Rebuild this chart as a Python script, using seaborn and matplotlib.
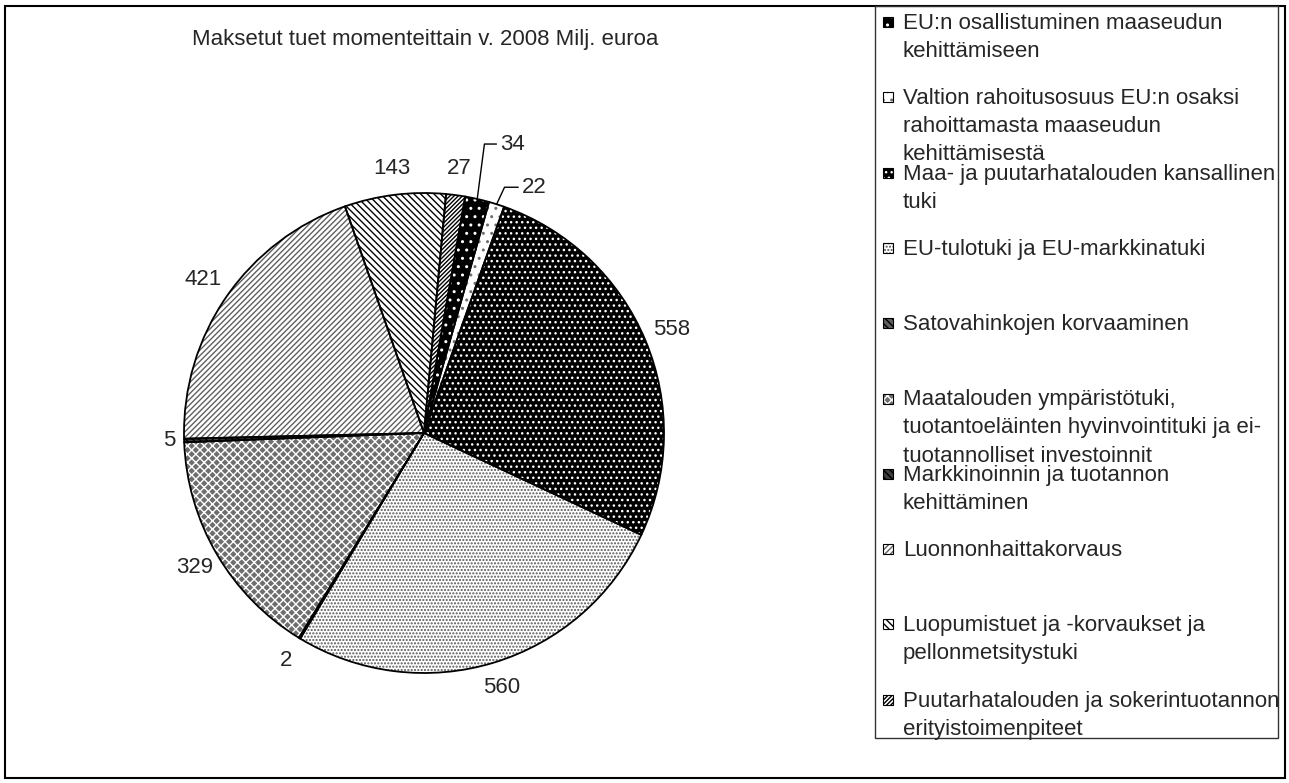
import numpy as np
import seaborn as sns
import matplotlib.pyplot as plt
from matplotlib.patches import Rectangle

sns.set_style("white")
plt.rcParams['font.family'] = ['Liberation Sans', 'DejaVu Sans']
plt.rcParams['hatch.linewidth'] = 1.0

title = "Maksetut tuet momenteittain v. 2008 Milj. euroa"
categories = [
    "EU:n osallistuminen maaseudun\nkehittämiseen",
    "Valtion rahoitusosuus EU:n osaksi\nrahoittamasta maaseudun\nkehittämisestä",
    "Maa- ja puutarhatalouden kansallinen\ntuki",
    "EU-tulotuki ja EU-markkinatuki",
    "Satovahinkojen korvaaminen",
    "Maatalouden ympäristötuki,\ntuotantoeläinten hyvinvointituki ja ei-\ntuotannolliset investoinnit",
    "Markkinoinnin ja tuotannon\nkehittäminen",
    "Luonnonhaittakorvaus",
    "Luopumistuet ja -korvaukset ja\npellonmetsitystuki",
    "Puutarhatalouden ja sokerintuotannon\nerityistoimenpiteet",
]
values = [34, 22, 558, 560, 2, 329, 5, 421, 143, 27]

# fill styles (face colour, hatch, hatch colour) per slice
faces = ['black', 'white', 'black', 'white', '#606060', '#6e6e6e', '#404040', 'white', 'white', 'white']
hatches = ['..', '..', '...', '.....', '\\\\\\\\\\', 'xxxx', '\\\\\\\\\\', '//////', '\\\\\\\\\\', '////////']
hcolors = ['white', '#707070', 'white', '#555555', 'black', 'white', 'black', '#606060', 'black', 'black']

W, H = 1289, 783
fs = 16


def fx(x):
    return x / W


def fy(y):
    return 1 - y / H


fig = plt.figure(figsize=(W / 100, H / 100), dpi=100)
R = 245
cx, cy = 424, 433
ax = fig.add_axes([fx(cx - 300), fy(cy + 300), 600 / W, 600 / H])
ax.set_xlim(-300 / R, 300 / R)
ax.set_ylim(-300 / R, 300 / R)
ax.axis('off')

start = 90 - 9.9
wedges, _ = ax.pie(values, startangle=start, counterclock=False, radius=1,
                   wedgeprops=dict(linewidth=0))
for w, fc, h, hc in zip(wedges, faces, hatches, hcolors):
    w.set_facecolor(fc)
    w.set_edgecolor(hc)
    w.set_hatch(h)
# outlines
ax.pie(values, startangle=start, counterclock=False, radius=1,
       wedgeprops=dict(facecolor='none', edgecolor='black', linewidth=1.3))

# value labels
label_r = [None, None, 1.12, 1.11, 1.11, 1.11, 1.06, 1.12, 1.11, 1.11]
for i, w in enumerate(wedges):
    ang = np.deg2rad((w.theta1 + w.theta2) / 2)
    if label_r[i] is None:
        continue
    ax.text(label_r[i] * np.cos(ang), label_r[i] * np.sin(ang), str(values[i]),
            ha='center', va='center', fontsize=fs)

# leader lines for the two thin slices
leader = {0: (1.204, 0.03, 0.05), 1: (1.024, 0.033, 0.057)}
for i, (ly, dx1, dx2) in leader.items():
    w = wedges[i]
    ang = np.deg2rad((w.theta1 + w.theta2) / 2)
    x0, y0 = np.cos(ang), np.sin(ang)
    xe = x0 + dx1
    ax.plot([x0, xe, xe + dx2], [y0, ly, ly], color='black', lw=1)
    ax.text(xe + dx2 + 0.015, ly, str(values[i]), ha='left', va='center', fontsize=fs)

fig.text(fx(425), fy(40), title, ha='center', va='center', fontsize=fs)

# outer frame and legend box
fig.patches.append(Rectangle((fx(5), fy(778)), (1285 - 5) / W, (778 - 6) / H,
                             transform=fig.transFigure, fill=False,
                             edgecolor='black', linewidth=1.5))
fig.patches.append(Rectangle((fx(875), fy(738)), (1278 - 875) / W, (738 - 6) / H,
                             transform=fig.transFigure, fill=False,
                             edgecolor='#333333', linewidth=1))

# legend entries
for i, lab in enumerate(categories):
    y0 = 22 + 75.3 * i
    sq = Rectangle((fx(883), fy(y0 + 5)), 10 / W, 10 / H, transform=fig.transFigure,
                   facecolor=faces[i], edgecolor=hcolors[i], hatch=hatches[i], linewidth=0)
    fig.patches.append(sq)
    fig.patches.append(Rectangle((fx(883), fy(y0 + 5)), 10 / W, 10 / H,
                                 transform=fig.transFigure, fill=False,
                                 edgecolor='black', linewidth=0.8))
    for j, line in enumerate(lab.split('\n')):
        fig.text(fx(903), fy(y0 + 28 * j + 7), line, ha='left', va='baseline', fontsize=fs)

fig.savefig("out.png", dpi=100, facecolor='white')
